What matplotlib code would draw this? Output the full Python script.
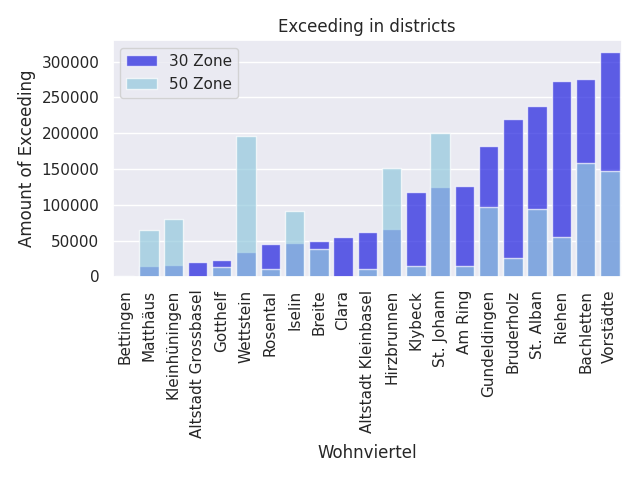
import matplotlib
matplotlib.use("Agg")
import matplotlib.pyplot as plt
import seaborn as sns
import pandas as pd

sns.set_theme()

# ---- data ----
districts = ["Bettingen", "Matthäus", "Kleinhüningen", "Altstadt Grossbasel",
             "Gotthelf", "Wettstein", "Rosental", "Iselin", "Breite", "Clara",
             "Altstadt Kleinbasel", "Hirzbrunnen", "Klybeck", "St. Johann",
             "Am Ring", "Gundeldingen", "Bruderholz", "St. Alban", "Riehen",
             "Bachletten", "Vorstädte"]
zone30 = [500, 14500, 16300, 20100, 22800, 34500, 45300, 47100, 49900, 55000,
          62000, 66200, 117500, 125400, 126300, 181800, 220000, 238000, 273500,
          276200, 314000]
zone50 = [1000, 65500, 80600, 0, 13500, 195500, 9800, 91800, 37800, 0,
          9800, 151500, 14800, 200500, 14800, 96500, 25200, 93700, 55400,
          158200, 147000]

df = pd.DataFrame({"Wohnviertel": districts, "30 Zone": zone30, "50 Zone": zone50})

fig, ax = plt.subplots(figsize=(6.4, 4.8), dpi=100)
sns.barplot(data=df, x="Wohnviertel", y="30 Zone", color="blue", alpha=0.7,
            label="30 Zone", ax=ax)
sns.barplot(data=df, x="Wohnviertel", y="50 Zone", color="skyblue", alpha=0.7,
            label="50 Zone", ax=ax)

ax.set_title("Exceeding in districts")
ax.set_xlabel("Wohnviertel")
ax.set_ylabel("Amount of Exceeding")
plt.xticks(rotation=90)
ax.legend(loc="upper left")
plt.tight_layout()
plt.savefig("out.png")
